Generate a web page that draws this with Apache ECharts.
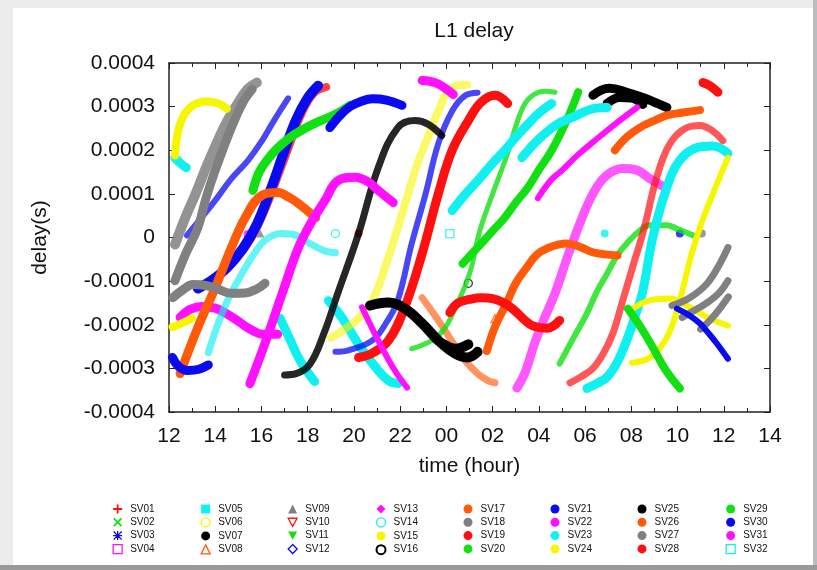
<!DOCTYPE html>
<html>
<head>
<meta charset="utf-8">
<title>L1 delay</title>
<script src="https://cdn.jsdelivr.net/npm/echarts@6/dist/echarts.min.js"></script>
<style>
  html, body { margin: 0; padding: 0; background: #ececec; }
  #chart { width: 817px; height: 570px; }
</style>
</head>
<body>
<div id="chart"></div>
<script>
// delay values below are in units of 1e-4 s, time in hours (24+ = next day)
var sv01 = [
    [[13.4,-1.1],[14.0,-0.92],[14.7,-0.6],[15.4,-0.15],[16.0,0.45],[16.6,1.25],[17.2,2.1],[17.7,2.8],[18.25,3.3],[18.8,3.45]]
];
var sv02 = [
    [[28.9,-2.89],[29.5,-2.3],[30.08,-1.74],[30.5,-1.25],[30.95,-0.83],[31.4,-0.4],[31.8,-0.14],[32.37,0.16],[32.8,0.28],[33.54,0.28],[33.97,0.2],[34.66,0.05]]
];
var sv03 = [
    [[13.25,-1.17],[13.8,-1.0],[14.5,-0.7],[15.2,-0.25],[15.8,0.3],[16.4,1.1],[17.0,2.0],[17.5,2.7],[18.0,3.2],[18.45,3.48]]
];
var sv04 = [
    [[27.05,-3.45],[27.4,-3.1],[27.8,-2.45],[28.2,-1.9],[28.7,-1.28],[29.3,-0.35],[30.0,0.62],[30.5,1.15],[31.0,1.45],[31.6,1.58],[32.2,1.55],[32.8,1.35],[33.45,1.15]]
];
var sv05 = [
    [[12.25,1.83],[12.5,1.7],[12.75,1.6]],
    [[16.8,-1.85],[17.2,-2.3],[17.7,-2.85],[18.3,-3.3]],
    [[18.9,-1.45],[19.5,-1.85],[20.2,-2.45],[20.9,-2.95],[21.5,-3.28],[21.9,-3.35]]
];
var sv06 = [
    [[19.0,-2.3],[19.6,-2.1],[20.2,-1.85],[20.8,-1.45],[21.4,-0.6],[21.9,0.23],[22.4,1.1],[22.8,1.77],[23.2,2.3],[23.65,2.9],[24.25,3.44],[24.9,3.5]]
];
var sv07 = [
    [[30.34,3.26],[30.7,3.38],[31.07,3.42],[31.8,3.33],[32.5,3.21],[33.0,3.1],[33.54,2.98]],
    [[30.95,3.07],[31.5,3.21],[32.0,3.2],[32.5,3.05]]
];
var sv08 = [
    [[22.95,-1.38],[23.65,-1.9],[24.3,-2.43],[24.7,-2.75],[25.35,-3.12],[25.8,-3.28],[26.1,-3.33]],
    [[26.1,-1.86]]
];
var sv09 = [
    [[12.26,-0.16],[12.7,0.45],[13.15,1.0],[13.6,1.6],[14.05,2.15],[14.5,2.65],[14.95,3.05],[15.4,3.4],[15.8,3.55]],
    [[15.95,0.09]]
];
var sv10 = [
    [[29.35,-3.33],[29.8,-3.2],[30.34,-3.0],[30.8,-2.65],[31.2,-2.2],[31.6,-1.5],[32.1,-0.6],[32.55,0.2],[33.1,1.38],[33.67,2.15],[34.4,2.52],[34.97,2.57],[35.5,2.45],[35.96,2.22]]
];
var sv11 = [
    [[22.5,-2.55],[23.38,-2.36],[23.9,-2.1],[24.28,-1.74],[25.0,-0.83],[25.45,0.16],[26.0,1.0],[26.65,1.93],[27.0,2.55],[27.4,3.07],[27.8,3.28],[28.26,3.35],[28.7,3.33]]
];
var sv12 = [
    [[12.78,0.05],[13.4,0.45],[14.0,0.85],[14.7,1.35],[15.42,1.77],[16.0,2.2],[16.45,2.6],[16.8,2.9],[17.15,3.19]],
    [[19.2,-2.62],[19.8,-2.58],[20.8,-2.36],[21.4,-1.95],[21.9,-1.44],[22.5,-0.14],[23.1,1.0],[23.65,2.15],[24.25,2.9],[24.8,3.25],[25.35,3.32]]
];
var sv13 = [
    [[12.48,-1.83],[12.9,-1.65],[13.4,-1.58],[14.0,-1.62],[14.5,-1.75],[15.0,-1.92],[15.5,-2.1],[16.1,-2.22],[16.7,-2.22]]
];
var sv14 = [
    [[13.7,-2.64],[14.4,-1.6],[15.15,-0.83],[16.0,-0.14],[16.5,0.05],[16.9,0.09],[17.5,0.05],[18.1,-0.14],[18.7,-0.3],[19.2,-0.35]],
    [[19.2,0.09]]
];
var sv15 = [
    [[12.26,1.88],[12.4,2.45],[12.7,2.85],[13.1,3.05],[13.6,3.12],[14.1,3.08],[14.5,2.95]],
    [[12.15,-2.05],[12.5,-1.98],[13.0,-1.85]]
];
var sv16 = [
    [[17.0,-3.15],[17.5,-3.12],[18.1,-2.9],[18.7,-2.2],[19.3,-1.28],[20.2,0.09],[21.05,1.6],[21.9,2.52],[22.65,2.68],[23.2,2.6],[23.8,2.34]],
    [[24.95,-1.05]]
];
var sv17 = [
    [[12.48,-3.12],[13.25,-2.06],[14.0,-1.15],[14.7,-0.23],[15.3,0.46],[16.0,0.96],[16.7,1.03],[17.2,0.92],[17.6,0.78],[18.35,0.45]]
];
var sv18 = [
    [[12.26,-0.99],[12.7,-0.4],[13.25,0.23],[13.6,0.9],[14.0,1.54],[14.7,2.52],[15.2,3.1],[15.6,3.4]],
    [[12.17,-1.38],[12.6,-1.2],[13.05,-1.08],[13.6,-1.1],[14.1,-1.18],[14.7,-1.28],[15.3,-1.27],[15.8,-1.18],[16.15,-1.05]],
    [[35.05,0.09]]
];
var sv19 = [
    [[20.2,-2.75],[20.8,-2.65],[21.5,-2.36],[22.2,-1.6],[22.95,-0.37],[23.65,1.0],[24.25,2.0],[24.95,2.68],[25.5,3.1],[26.1,3.26],[26.65,3.07]],
    [[20.2,0.09]]
];
var sv20 = [
    [[15.63,1.08],[15.9,1.5],[16.24,1.77],[16.7,2.05],[17.23,2.29],[17.8,2.48],[18.4,2.64],[19.27,2.84],[19.83,3.03]]
];
var sv21 = [
    [[18.96,2.52],[19.4,2.8],[19.83,3.0],[20.3,3.12],[20.8,3.18],[21.4,3.15],[22.08,3.03]],
    [[12.15,-2.75],[12.4,-2.95],[12.8,-3.05],[13.3,-3.02],[13.7,-2.92]],
    [[34.1,0.09]]
];
var sv22 = [
    [[15.5,-3.35],[16.15,-2.43],[16.9,-1.28],[17.6,-0.23],[18.2,0.39],[18.75,0.85],[19.3,1.3],[20.05,1.38],[20.6,1.28],[21.05,1.08],[21.7,0.8]],
    [[22.95,3.6],[23.3,3.58],[23.65,3.52],[24.0,3.4],[24.3,3.28]]
];
var sv23 = [
    [[24.25,0.62],[24.8,0.98],[25.35,1.3],[26.0,1.7],[26.53,2.0],[27.0,2.3],[27.53,2.6],[28.0,2.85],[28.56,3.07]],
    [[30.08,-3.46],[30.5,-3.35],[30.95,-3.2],[31.4,-2.85],[31.8,-2.36],[32.2,-1.75],[32.5,-1.22],[32.93,0.0],[33.54,1.15],[34.1,1.77],[34.84,2.06],[35.53,2.1],[36.18,1.93]],
    [[30.85,0.09]]
];
var sv24 = [
    [[32.03,-2.87],[32.8,-2.75],[33.54,-2.29],[34.1,-1.44],[34.53,-0.53],[34.97,0.23],[35.53,1.0],[36.18,1.83]],
    [[32.07,-1.63],[32.8,-1.44],[33.67,-1.4],[34.53,-1.6],[35.4,-1.86],[36.18,-2.02]]
];
var sv25 = [
    [[20.7,-1.56],[21.47,-1.49],[22.2,-1.63],[22.95,-1.97],[23.65,-2.36],[24.37,-2.66],[24.9,-2.75],[25.35,-2.62]],
    [[23.9,-2.45],[24.4,-2.55],[24.95,-2.45]]
];
var sv26 = [
    [[25.75,-2.6],[26.1,-2.05],[26.6,-1.51],[27.0,-1.05],[27.47,-0.69],[27.9,-0.4],[28.35,-0.25],[29.2,-0.14],[29.8,-0.22],[30.34,-0.34],[31.4,-0.41]],
    [[31.29,2.0],[31.8,2.3],[32.37,2.52],[33.0,2.68],[33.54,2.8],[34.3,2.87],[34.97,2.92]]
];
var sv27 = [
    [[33.76,-1.56],[34.53,-1.38],[35.27,-1.06],[35.83,-0.6],[36.18,-0.23]],
    [[34.2,-1.83],[34.8,-1.65],[35.27,-1.5],[35.83,-1.25],[36.18,-0.99]],
    [[35.0,-2.1],[35.4,-1.9],[35.8,-1.65],[36.2,-1.36]]
];
var sv28 = [
    [[24.15,-1.72],[24.5,-1.5],[25.0,-1.42],[25.5,-1.38],[26.0,-1.4],[26.5,-1.5],[26.9,-1.65],[27.4,-1.9],[27.75,-2.03],[28.35,-2.08],[28.9,-1.9]],
    [[35.1,3.55],[35.4,3.48],[35.75,3.33]]
];
var sv29 = [
    [[24.7,-0.6],[25.35,-0.23],[26.0,0.15],[26.53,0.46],[27.0,0.8],[27.53,1.15],[28.0,1.55],[28.56,2.0],[29.26,2.75],[29.7,3.33]],
    [[31.85,-1.63],[32.4,-2.05],[32.93,-2.52],[33.5,-3.05],[34.1,-3.46]]
];
var sv30 = [
    [[33.97,-1.63],[34.5,-1.78],[34.97,-1.97],[35.35,-2.2],[35.7,-2.43],[36.18,-2.78]]
];
var sv31 = [
    [[20.35,-1.6],[21.05,-2.36],[21.77,-3.05],[22.3,-3.44]],
    [[27.96,0.9],[28.5,1.3],[29.0,1.54],[29.7,1.9],[30.42,2.22],[31.3,2.6],[32.25,2.98]],
    [[15.4,0.08]]
];
var sv32 = [
    [[27.27,1.83],[27.8,2.15],[28.26,2.38],[28.8,2.6],[29.43,2.75],[30.42,2.96],[30.95,2.98]],
    [[24.15,0.09]]
];

var svData = [sv01, sv02, sv03, sv04, sv05, sv06, sv07, sv08, sv09, sv10, sv11, sv12, sv13, sv14, sv15, sv16,
              sv17, sv18, sv19, sv20, sv21, sv22, sv23, sv24, sv25, sv26, sv27, sv28, sv29, sv30, sv31, sv32];
var svNames = [];
for (var n = 1; n <= 32; n++) svNames.push('SV' + (n < 10 ? '0' : '') + n);

var xTicks = [12, 14, 16, 18, 20, 22, 24, 26, 28, 30, 32, 34, 36, 38];

// look of each satellite: colour, marker, hollow marker, band width, opacity
var RED = '#ff1010', GRN = '#12e012', BLU = '#0a0af0', MAG = '#ff10ff', CYN = '#10f0f0',
    YEL = '#f6f600', BLK = '#000000', ORG = '#ff5a0a', GRY = '#808080';
var icons = {
    plus: 'path://M4,0H6V4H10V6H6V10H4V6H0V4H4Z',
    cross: 'path://M1.4,0L5,3.6L8.6,0L10,1.4L6.4,5L10,8.6L8.6,10L5,6.4L1.4,10L0,8.6L3.6,5L0,1.4Z',
    star: 'path://M4.3,0H5.7V4.3H10V5.7H5.7V10H4.3V5.7H0V4.3H4.3Z M1,0L5,4L9,0L10,1L6,5L10,9L9,10L5,6L1,10L0,9L4,5L0,1Z',
    down: 'path://M0,0H10L5,9Z'
};
var svLook = [
    [RED, icons.plus, false, 8, 0.8],
    [GRN, icons.cross, false, 6, 0.8],
    [BLU, icons.star, false, 10, 1],
    [MAG, 'rect', true, 9, 0.7],
    [CYN, 'rect', false, 9, 1],
    [YEL, 'circle', true, 8, 0.6],
    [BLK, 'circle', false, 9, 1],
    [ORG, 'triangle', true, 7, 0.65],
    [GRY, 'triangle', false, 10, 0.85],
    [RED, icons.down, true, 7, 0.7],
    [GRN, icons.down, false, 5, 0.8],
    [BLU, 'diamond', true, 6, 0.75],
    [MAG, 'diamond', false, 9, 1],
    [CYN, 'circle', true, 7, 0.65],
    [YEL, 'circle', false, 8, 1],
    [BLK, 'circle', true, 7, 0.85],
    [ORG, 'circle', false, 9, 1],
    [GRY, 'circle', false, 9, 1],
    [RED, 'circle', false, 9, 1],
    [GRN, 'circle', false, 9, 1],
    [BLU, 'circle', false, 9, 1],
    [MAG, 'circle', false, 9, 1],
    [CYN, 'circle', false, 9, 1],
    [YEL, 'circle', false, 6, 1],
    [BLK, 'circle', false, 10, 1],
    [ORG, 'circle', false, 8, 1],
    [GRY, 'circle', false, 7, 1],
    [RED, 'circle', false, 9, 1],
    [GRN, 'circle', false, 8, 1],
    [BLU, 'circle', false, 6, 1],
    [MAG, 'circle', false, 6, 1],
    [CYN, 'rect', true, 9, 1]
];

function markStyle(look) {
    if (look[2]) return { color: '#ffffff', borderColor: look[0], borderWidth: 1.3 };
    return { color: look[0], borderColor: look[0], borderWidth: 0 };
}

var series = [];
svNames.forEach(function (name, i) {
    var look = svLook[i];
    svData[i].forEach(function (seg) {
        var pts = seg.map(function (p) { return [p[0], p[1] * 1e-4]; });
        if (pts.length === 1) {
            series.push({
                name: name, type: 'scatter', data: pts,
                symbol: look[1], symbolSize: 8,
                itemStyle: markStyle(look),
                silent: true
            });
        } else {
            series.push({
                name: name, type: 'line', data: pts,
                smooth: 0.4, symbol: 'none',
                lineStyle: { color: look[0], width: look[3], opacity: look[4], cap: 'round', join: 'round' },
                itemStyle: { color: look[0] },
                silent: true
            });
        }
    });
});

// legend: 8 columns of 4 entries
var colCenters = [112, 200, 287, 375, 463, 550, 637, 725];
var legends = colCenters.map(function (cx, c) {
    var items = [];
    for (var r = 0; r < 4; r++) {
        var i = c * 4 + r;
        var look = svLook[i];
        var st = markStyle(look);
        if (i === 15) st.borderWidth = 2;
        items.push({ name: svNames[i], icon: look[1], itemStyle: st });
    }
    return {
        orient: 'vertical',
        left: cx - 4.5,
        top: 499,
        itemWidth: 9,
        itemHeight: 9,
        itemGap: 3.3,
        selectedMode: false,
        data: items,
        textStyle: {
            fontFamily: 'Liberation Sans', fontSize: 10, lineHeight: 10,
            color: '#111', padding: [0, 0, 0, 3]
        }
    };
});

var axisFont = { fontFamily: 'Liberation Sans', fontSize: 21, color: '#111' };

var chart = echarts.init(document.getElementById('chart'));
var option = {
    backgroundColor: '#ececec',
    animation: false,
    title: {
        text: 'L1 delay',
        left: 469,
        textAlign: 'center',
        top: 16,
        textStyle: { fontFamily: 'Liberation Sans', fontSize: 21, fontWeight: 'normal', color: '#111' }
    },
    graphic: [
        { type: 'rect', z: -10, shape: { x: 13, y: 8, width: 800, height: 557 }, style: { fill: '#ffffff' } },
        { type: 'rect', z: -10, shape: { x: 813, y: 0, width: 4, height: 570 }, style: { fill: '#b9bcc0' } },
        { type: 'rect', z: -10, shape: { x: 0, y: 565, width: 817, height: 5 }, style: { fill: '#9a9a9a' } }
    ],
    legend: legends,
    grid: { left: 169, right: 47, top: 63, bottom: 158 },
    xAxis: [{
        type: 'value', min: xTicks[0], max: xTicks[xTicks.length - 1], interval: 2,
        name: 'time (hour)', nameLocation: 'middle', nameGap: 44,
        nameTextStyle: axisFont,
        axisLine: { onZero: false, lineStyle: { color: '#222', width: 1.5 } },
        axisTick: { inside: true, length: 6, lineStyle: { color: '#222' } },
        minorTick: { show: true, splitNumber: 2, length: 4, lineStyle: { color: '#222' } },
        splitLine: { show: false },
        axisLabel: Object.assign({ margin: 14, formatter: function (v) {
            var h = v % 24;
            return (h < 10 ? '0' : '') + h;
        } }, axisFont)
    }, {
        type: 'value', position: 'top', min: xTicks[0], max: xTicks[xTicks.length - 1], interval: 2,
        axisLine: { onZero: false, lineStyle: { color: '#222', width: 1.5 } },
        axisTick: { inside: true, length: 6, lineStyle: { color: '#222' } },
        minorTick: { show: true, splitNumber: 2, length: 4, lineStyle: { color: '#222' } },
        splitLine: { show: false },
        axisLabel: { show: false }
    }],
    yAxis: [{
        type: 'value', min: -0.0004, max: 0.0004, interval: 0.0001,
        name: 'delay(s)', nameLocation: 'middle', nameGap: 118, nameRotate: 90,
        nameTextStyle: axisFont,
        axisLine: { show: true, onZero: false, lineStyle: { color: '#222', width: 1.5 } },
        axisTick: { show: true, inside: true, length: 6, lineStyle: { color: '#222' } },
        splitLine: { show: false },
        axisLabel: Object.assign({ margin: 14, formatter: function (v) {
            return Math.abs(v) < 1e-10 ? '0' : v.toFixed(4);
        } }, axisFont)
    }, {
        type: 'value', position: 'right', min: -0.0004, max: 0.0004, interval: 0.0001,
        axisLine: { show: true, onZero: false, lineStyle: { color: '#222', width: 1.5 } },
        axisTick: { show: true, inside: true, length: 6, lineStyle: { color: '#222' } },
        splitLine: { show: false },
        axisLabel: { show: false }
    }],
    series: series
};
chart.setOption(option);
window.addEventListener('resize', chart.resize);
</script>
</body>
</html>
